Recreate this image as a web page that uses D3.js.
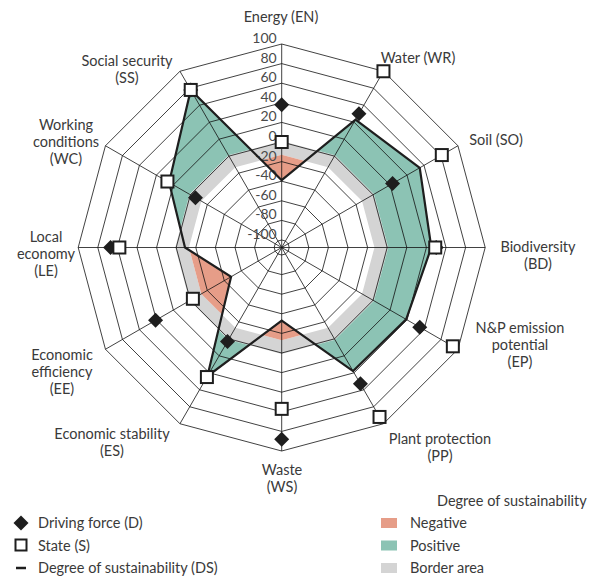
<!DOCTYPE html>
<meta charset="utf-8">
<script src="https://cdn.jsdelivr.net/npm/d3@7"></script>
<style>
body { margin: 0; background: #fff; }
text { font-family: Lato, "Open Sans", sans-serif; fill: #3a3a3a; }
.grid { fill: none; stroke: #111; stroke-width: 0.8px; }
</style>
<body>
<script>

// axis names (clockwise from top), split into lines
var axisLabels = [
  ["Energy (EN)"], ["Water (WR)"], ["Soil (SO)"], ["Biodiversity", "(BD)"],
  ["N&P emission", "potential", "(EP)"], ["Plant protection", "(PP)"], ["Waste", "(WS)"],
  ["Economic stability", "(ES)"], ["Economic", "efficiency", "(EE)"],
  ["Local", "economy", "(LE)"], ["Working", "conditions", "(WC)"], ["Social security", "(SS)"]
];
var drivingForce = [38, 50, 23, 50, 55, 53, 88, 3, 41, 67, -6, 78];
var stateVals = [0, 100, 81, 49, 94, 92, 57, 45, -3, 58, 27, 78];
var sustain = [-39, 43, 55, 45, 39, 38, -33, 44, -48, -9, 25, 78];
var borderLow = -13, borderHigh = 1;
var ticks = [100, 80, 60, 40, 20, 0, -20, -40, -60, -80, -100];

// label anchor points (center of text block)
var labelPos = [[281, 17], [418, 58], [496, 140], [538, 247], [520, 328],
                [440, 439], [282, 470], [112, 434], [62, 355], [46, 237], [66, 125], [127, 61]];

var width = 601, height = 580;
var cx = 281.7, cy = 247.5;
var n = axisLabels.length;

var r = d3.scaleLinear().domain([-100, 100]).range([7.5, 203.5]);
var ang = d3.scaleLinear().domain([0, n]).range([0, 2 * Math.PI]);

function pt(i, v) {
  var a = ang(i);
  return [cx + r(v) * Math.sin(a), cy - r(v) * Math.cos(a)];
}
function ring(vals) {
  return d3.range(n).map(function(i) { return pt(i, vals[i]); });
}
function constVals(v) { return d3.range(n).map(function() { return v; }); }

var line = d3.line().curve(d3.curveLinearClosed);

var svg = d3.select("body").append("svg")
    .attr("width", width)
    .attr("height", height);

var defs = svg.append("defs");

// mask: everything outside the upper border
var mOut = defs.append("mask").attr("id", "outsideBorder");
mOut.append("rect").attr("width", width).attr("height", height).attr("fill", "#fff");
mOut.append("path").attr("d", line(ring(constVals(borderHigh)))).attr("fill", "#000");

// mask: everything outside the DS polygon
var mDs = defs.append("mask").attr("id", "outsideDS");
mDs.append("rect").attr("width", width).attr("height", height).attr("fill", "#fff");
mDs.append("path").attr("d", line(ring(sustain))).attr("fill", "#000");

// border band
svg.append("path")
    .attr("d", line(ring(constVals(borderHigh))) + line(ring(constVals(borderLow))))
    .attr("fill", "#d4d4d4")
    .attr("fill-rule", "evenodd");

// positive area
svg.append("path")
    .attr("d", line(ring(sustain)))
    .attr("fill", "#8cc3b4")
    .attr("mask", "url(#outsideBorder)");

// negative area
svg.append("path")
    .attr("d", line(ring(constVals(borderLow))))
    .attr("fill", "#e69d88")
    .attr("mask", "url(#outsideDS)");

// grid rings and spokes
var grid = svg.append("g");
grid.selectAll(".ring")
    .data(ticks)
    .enter().append("path")
    .attr("class", "grid")
    .attr("d", function(t) { return line(ring(constVals(t))); });

grid.selectAll(".spoke")
    .data(d3.range(n))
    .enter().append("line")
    .attr("class", "grid")
    .attr("x1", cx).attr("y1", cy)
    .attr("x2", function(i) { return pt(i, 100)[0]; })
    .attr("y2", function(i) { return pt(i, 100)[1]; });

// tick labels
svg.selectAll(".tick")
    .data(ticks)
    .enter().append("text")
    .attr("x", cx - 5)
    .attr("y", function(t) { return cy - r(t) - 1; })
    .attr("text-anchor", "end")
    .style("font-size", "14px")
    .style("fill", "#4a4a4a")
    .text(function(t) { return t; });

// DS line
svg.append("path")
    .attr("d", line(ring(sustain)))
    .attr("fill", "none")
    .attr("stroke", "#1e1e1e")
    .attr("stroke-width", 2.2)
    .attr("stroke-linejoin", "miter");

// driving force diamonds
var diamond = "M0,-7.5L7.5,0L0,7.5L-7.5,0Z";
svg.selectAll(".dia")
    .data(drivingForce)
    .enter().append("path")
    .attr("d", diamond)
    .attr("fill", "#1e1e1e")
    .attr("transform", function(v, i) { return "translate(" + pt(i, v) + ")"; });

// state squares
svg.selectAll(".sq")
    .data(stateVals)
    .enter().append("rect")
    .attr("x", -6).attr("y", -6)
    .attr("width", 12).attr("height", 12)
    .attr("fill", "#fff")
    .attr("stroke", "#1e1e1e")
    .attr("stroke-width", 2)
    .attr("transform", function(v, i) { return "translate(" + pt(i, v) + ")"; });

// axis labels
var lab = svg.selectAll(".axlab")
    .data(axisLabels)
    .enter().append("text")
    .attr("text-anchor", "middle")
    .style("font-size", "14.5px");
lab.each(function(lines, i) {
  var t = d3.select(this);
  lines.forEach(function(s, k) {
    t.append("tspan")
      .attr("x", labelPos[i][0])
      .attr("y", labelPos[i][1] + 5 + k * 17)
      .text(s);
  });
});

// legend left
var legL = svg.append("g");
var legItems = ["Driving force (D)", "State (S)", "Degree of sustainability (DS)"];
legItems.forEach(function(s, k) {
  var y = 523 + k * 22.5;
  legL.append("text").attr("x", 38).attr("y", y + 5).style("font-size", "14.5px").text(s);
});
legL.append("path").attr("d", diamond).attr("fill", "#1e1e1e").attr("transform", "translate(21,523)");
legL.append("rect").attr("x", 15.5).attr("y", 539.5).attr("width", 11).attr("height", 11)
    .attr("fill", "#fff").attr("stroke", "#1e1e1e").attr("stroke-width", 2);
legL.append("line").attr("x1", 16).attr("x2", 26).attr("y1", 568).attr("y2", 568)
    .attr("stroke", "#1e1e1e").attr("stroke-width", 2.5);

// legend right
var legR = svg.append("g");
legR.append("text").attr("x", 437).attr("y", 506).style("font-size", "14.5px").text("Degree of sustainability");
var sw = [["Negative", "#e69d88"], ["Positive", "#8cc3b4"], ["Border area", "#d4d4d4"]];
sw.forEach(function(s, k) {
  var y = 523 + k * 22.5;
  legR.append("rect").attr("x", 381).attr("y", y - 5).attr("width", 16).attr("height", 10).attr("fill", s[1]);
  legR.append("text").attr("x", 410).attr("y", y + 5).style("font-size", "14.5px").text(s[0]);
});

</script>
</body>
